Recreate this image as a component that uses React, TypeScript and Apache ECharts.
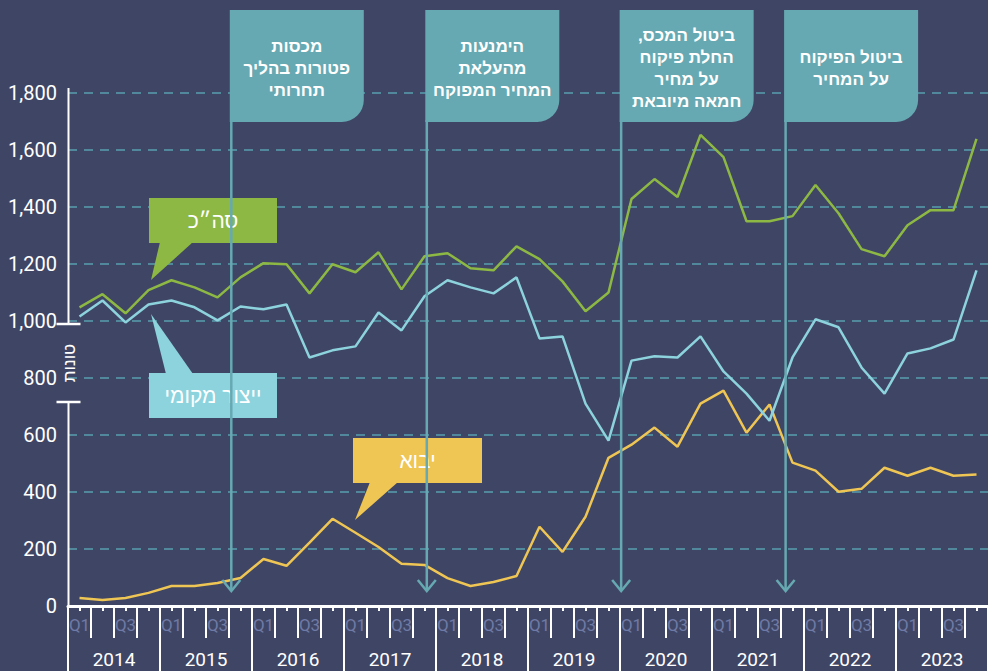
import React, { useEffect, useRef } from "react";
import * as echarts from "echarts";

const years = ["2014", "2015", "2016", "2017", "2018", "2019", "2020", "2021", "2022", "2023"];
const quarterNames = ["Q1", "Q2", "Q3", "Q4"];
const quarters: string[] = [];
years.forEach((y) => quarterNames.forEach((q) => quarters.push(q)));

// טונות (tons) per quarter, 2014Q1 – 2023Q4
const total = [
  1048, 1094, 1027, 1108, 1143, 1118, 1083, 1153, 1203, 1199,
  1097, 1199, 1171, 1241, 1111, 1227, 1238, 1185, 1178, 1262,
  1217, 1139, 1034, 1100, 1428, 1498, 1435, 1653, 1575, 1350,
  1350, 1368, 1477, 1378, 1252, 1227, 1336, 1389, 1389, 1639,
];
const local = [
  1016, 1072, 995, 1058, 1072, 1048, 1002, 1051, 1041, 1058,
  872, 897, 911, 1030, 967, 1087, 1143, 1118, 1097, 1153,
  939, 946, 710, 580, 861, 876, 872, 946, 823, 745,
  650, 872, 1006, 978, 837, 745, 886, 904, 935, 1178,
];
const imported = [
  28, 21, 28, 46, 70, 70, 81, 98, 165, 141,
  222, 306, 257, 207, 148, 144, 98, 70, 84, 105,
  278, 190, 313, 520, 566, 626, 559, 710, 756, 608,
  707, 503, 475, 401, 411, 485, 457, 485, 457, 461,
];

const yTicks = { min: 0, max: 1800, interval: 200 };

// policy events: position on the quarter scale (0 = start of 2014Q1)
const eventPositions = [7.1, 15.6, 24.05, 31.2];
const eventTexts = [
  ["מכסות", "פטורות בהליך", "תחרותי"],
  ["הימנעות", "מהעלאת", "המחיר המפוקח"],
  ["ביטול המכס,\u200F", "החלת פיקוח", "על מחיר", "חמאה מיובאת"],
  ["ביטול הפיקוח", "על המחיר"],
];

const BG = "#3f4665";
const GREEN = "#8db843";
const BLUE = "#8dd3de";
const YELLOW = "#efc554";
const TEAL = "#66a9b3";
const HEB_FONT = '"Liberation Sans", "DejaVu Sans", sans-serif';

export default function App() {
  const ref = useRef<HTMLDivElement>(null);

  useEffect(() => {
    if (!ref.current) return;
    const chart = echarts.init(ref.current, undefined, { renderer: "svg" });
    const option: any = {
      animation: false,
      backgroundColor: BG,
      grid: { left: 68, right: 0, top: 93, bottom: 65, containLabel: false },
      xAxis: [
        {
          type: "category",
          data: quarters,
          boundaryGap: true,
          position: "bottom",
          axisLine: { show: true, lineStyle: { color: "#ffffff", width: 3 } },
          axisTick: { show: true, interval: 0, alignWithLabel: true, length: 5, lineStyle: { color: "#ffffff", width: 2 } },
          axisLabel: { interval: 1, color: "#6f7aa5", fontSize: 17, fontFamily: "Roboto", margin: 10 },
          splitLine: { show: false },
        },
        {
          type: "category",
          data: quarters,
          boundaryGap: true,
          position: "bottom",
          axisLine: { show: false },
          axisTick: { show: true, interval: 0, length: 32, lineStyle: { color: "#ffffff", width: 2 } },
          axisLabel: { show: false },
          splitLine: { show: false },
        },
        {
          type: "category",
          data: years,
          boundaryGap: true,
          position: "bottom",
          axisLine: { show: false },
          axisTick: { show: true, interval: 0, length: 66, lineStyle: { color: "#ffffff", width: 2 } },
          axisLabel: { interval: 0, color: "#ffffff", fontSize: 19, fontFamily: "Roboto", margin: 44 },
          splitLine: { show: false },
        },
        { type: "value", min: 0, max: 40, show: false },
      ],
      yAxis: {
        type: "value",
        min: yTicks.min,
        max: yTicks.max,
        interval: yTicks.interval,
        axisLine: { show: false },
        axisTick: { show: false },
        axisLabel: {
          color: "#ffffff",
          fontSize: 20,
          fontFamily: "Roboto",
          margin: 11,
          verticalAlign: "middle",
          padding: [0, 0, 11, 0],
          formatter: (v: number) => v.toLocaleString("en-US"),
        },
        splitLine: { show: true, lineStyle: { color: "#5a9fae", type: [9, 7], width: 1.5 } },
      },
      series: [
        { name: "יבוא", type: "line", data: imported, showSymbol: false, lineStyle: { color: YELLOW, width: 2.5 }, itemStyle: { color: YELLOW }, z: 3 },
        { name: "ייצור מקומי", type: "line", data: local, showSymbol: false, lineStyle: { color: BLUE, width: 2.5 }, itemStyle: { color: BLUE }, z: 4 },
        { name: "סה״כ", type: "line", data: total, showSymbol: false, lineStyle: { color: GREEN, width: 2.5 }, itemStyle: { color: GREEN }, z: 5 },
      ],
    };
    chart.setOption(option);

    const g: any[] = [];
    // y axis with break
    const ax = 68.5;
    const white = { stroke: "#ffffff", lineWidth: 2 };
    g.push({ type: "line", shape: { x1: ax, y1: 88, x2: ax, y2: 324 }, style: white, z: 10 });
    g.push({ type: "line", shape: { x1: ax - 12, y1: 324, x2: ax + 12, y2: 324 }, style: { stroke: "#fff", lineWidth: 2.5 }, z: 10 });
    g.push({ type: "line", shape: { x1: ax - 12, y1: 402, x2: ax + 12, y2: 402 }, style: { stroke: "#fff", lineWidth: 2.5 }, z: 10 });
    g.push({ type: "line", shape: { x1: ax, y1: 402, x2: ax, y2: 606 }, style: white, z: 10 });
    g.push({
      type: "text",
      x: ax + 1,
      y: 363,
      rotation: Math.PI / 2,
      style: { text: "טונות", fill: "#ffffff", font: `17px ${HEB_FONT}`, align: "center", verticalAlign: "middle" },
      z: 10,
    });

    // event flags
    eventPositions.forEach((pos, i) => {
      const px = chart.convertToPixel({ xAxisIndex: 3 }, pos) as number;
      const bx = px - 1.5;
      g.push({ type: "rect", shape: { x: bx, y: 10, width: 134, height: 112, r: [0, 0, 22, 0] }, style: { fill: TEAL }, z: 20 });
      g.push({ type: "line", shape: { x1: px, y1: 120, x2: px, y2: 591 }, style: { stroke: TEAL, lineWidth: 2.5 }, z: 20 });
      g.push({
        type: "polyline",
        shape: { points: [[px - 9, 580], [px, 591], [px + 9, 580]] },
        style: { stroke: TEAL, lineWidth: 2.5, fill: null },
        z: 20,
      });
      g.push({
        type: "text",
        x: bx + 67,
        y: 68,
        style: {
          text: eventTexts[i].join("\n"),
          fill: "#ffffff",
          font: `bold 17px ${HEB_FONT}`,
          lineHeight: 22,
          align: "center",
          verticalAlign: "middle",
        },
        z: 21,
      });
    });

    // series callouts
    const callouts = [
      { text: "סה״כ", color: GREEN, box: [149, 198, 128, 45], tail: [[160, 242], [193, 242], [151, 280]] },
      { text: "ייצור מקומי", color: BLUE, box: [149, 373, 128, 45], tail: [[166, 374], [193, 374], [151, 314]] },
      { text: "יבוא", color: YELLOW, box: [353, 438, 129, 45], tail: [[370, 482], [398, 482], [355, 520]] },
    ];
    callouts.forEach((c) => {
      g.push({ type: "polygon", shape: { points: c.tail }, style: { fill: c.color }, z: 15 });
      g.push({ type: "rect", shape: { x: c.box[0], y: c.box[1], width: c.box[2], height: c.box[3] }, style: { fill: c.color }, z: 15 });
      g.push({
        type: "text",
        x: c.box[0] + c.box[2] / 2,
        y: c.box[1] + c.box[3] / 2,
        style: { text: c.text, fill: "#ffffff", font: `21px ${HEB_FONT}`, align: "center", verticalAlign: "middle" },
        z: 16,
      });
    });

    chart.setOption({ graphic: g });
    return () => chart.dispose();
  }, []);

  return (
    <div
      ref={ref}
      style={{ position: "fixed", left: 0, top: 0, width: 988, height: 671, background: BG }}
    />
  );
}
